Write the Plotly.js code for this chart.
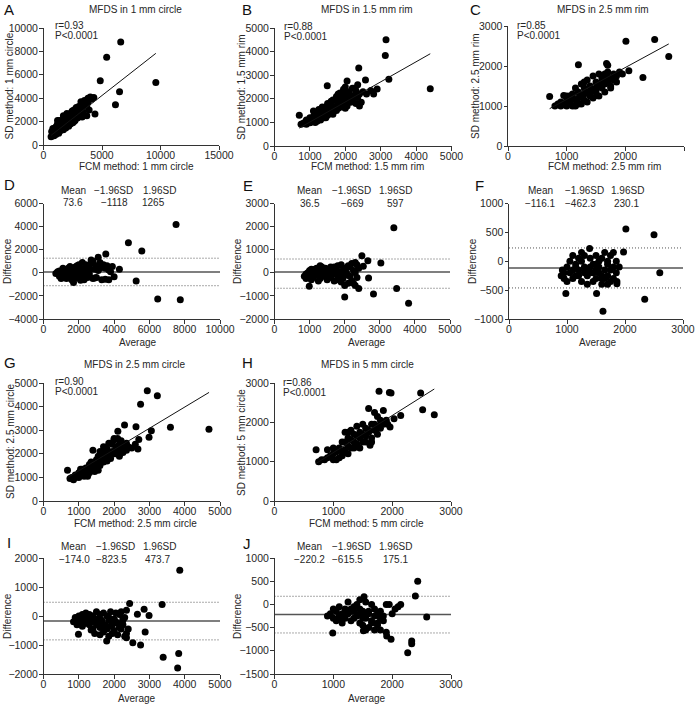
<!DOCTYPE html>
<html><head><meta charset="utf-8">
<script src="https://cdn.plot.ly/plotly-3.0.1.min.js"></script>
<style>html,body{margin:0;padding:0;background:#fff}#chart{width:695px;height:704px}</style>
</head><body><div id="chart"></div>
<script>
// ---------- DATA ----------
// A: MFDS in 1 mm circle (FCM vs SD)
const fcm1mmCircle = [
 650,700,750,800,850,900,950,1000,1000,1050,
 1100,1100,1150,1200,1200,1250,1300,1300,1350,1400,
 1400,1450,1500,1500,1550,1600,1600,1650,1700,1700,
 1750,1800,1800,1850,1900,1900,1950,2000,2000,2050,
 2100,2100,2150,2200,2200,2250,2300,2300,2400,2400,
 2450,2500,2500,2600,2600,2700,2700,2800,2800,2900,
 2900,3000,3000,3100,3200,3200,3300,3400,3500,3500,
 3600,3700,3800,3800,3900,4000,4100,4300,4400,1300,
 1600,1900,2200,2500,2800,3100,4850,5400,6600,9600,
 6500,6150,1200,900,2000,2600,3300,1700,800,3700];
const sd1mmCircle = [
 700,1150,900,1000,1250,800,1100,1200,1450,900,
 1000,1600,1300,1100,1800,1400,1000,1550,2100,1200,
 1700,1500,1300,1900,1600,1450,2000,1750,1300,2200,
 1900,1600,2050,1800,1450,2400,2100,1900,2300,1700,
 2500,2050,1600,2300,2600,2000,1800,2700,2200,2500,
 2900,1900,2650,2400,3000,2100,2800,3200,2500,2300,
 3000,3300,2600,2900,3700,3100,3500,2800,3800,3300,
 3600,3400,4000,3700,3000,4100,3900,4050,2650,1350,
 1700,2250,2000,2300,2600,2450,5500,7500,8800,5350,
 4550,3450,2100,1300,2700,2000,2400,2500,1400,2500];

// B: MFDS in 1.5 mm rim
const fcm15mmRim = [
 750,800,850,900,900,950,1000,1000,1050,1100,
 1100,1150,1200,1200,1250,1300,1300,1350,1400,1400,
 1450,1450,1500,1500,1550,1550,1600,1600,1650,1650,
 1700,1700,1750,1750,1800,1800,1850,1850,1900,1900,
 1950,1950,2000,2000,2050,2050,2100,2100,2150,2200,
 2200,2250,2300,2300,2350,2400,2400,2450,2500,2050,
 2380,2570,2720,2800,2900,3150,3130,3230,4400,1490,
 700,1100,1250,1350,1500,1600,1750,1850,2000,2150,
 1000,1150,1300,1450,1650,1800,1950,2250,2350,2600];
const sd15mmRim = [
 920,950,1000,920,1100,1050,980,1200,1100,1050,
 1250,1150,1050,1350,1200,1150,1450,1300,1200,1550,
 1350,1650,1300,1500,1400,1750,1500,1850,1350,1650,
 1550,1950,1700,2100,1600,1850,1750,2250,1950,1650,
 2400,1850,2050,2500,1700,2200,2300,1900,2100,2450,
 1950,2150,2350,1800,2050,2200,1700,1850,2300,2750,
 3300,2800,2350,2200,2420,4500,3830,2830,2430,2550,
 1300,1480,1550,1650,1800,1900,1500,2150,1600,1850,
 1000,1000,1100,1200,1950,2200,2150,2450,2600,2200];

// C: MFDS in 2.5 mm rim
const fcm25mmRim = [
 800,850,900,900,950,1000,1000,1050,1050,1100,
 1100,1150,1150,1200,1200,1250,1250,1300,1300,1350,
 1350,1400,1400,1450,1450,1500,1500,1550,1550,1600,
 1600,1650,1650,1700,1700,1750,1750,1800,1850,1900,
 710,2010,2500,2740,2300,2060,1200,1680,1700,1510,
 950,1150,1250,1350,1450,1550,1650,1750,1850,1950,
 1000,1100,1200,1300,1400,1500,1600,1700,1800,1300];
const sd25mmRim = [
 1000,1050,1000,1100,1050,1000,1150,1100,1250,1000,
 1300,1150,1450,1050,1350,1250,1550,1150,1450,1350,
 1650,1250,1500,1400,1750,1350,1600,1500,1800,1450,
 1700,1550,1800,1600,1850,1700,1500,1800,1750,1850,
 1240,2620,2660,2240,1710,1880,2030,2060,2020,1260,
 1260,1000,1050,1100,1200,1250,1350,1450,1600,1800,
 1250,1200,1200,1300,1350,1450,1600,1700,1650,1600];

// D: Bland-Altman 1 mm circle (average, difference)
const avg1mmCircle = [
 700,800,900,900,1000,1000,1100,1100,1200,1200,
 1300,1300,1400,1400,1500,1500,1600,1600,1700,1700,
 1800,1800,1900,1900,2000,2000,2100,2100,2200,2200,
 2300,2300,2400,2400,2500,2500,2600,2600,2700,2700,
 2800,2800,2900,2900,3000,3000,3100,3100,3200,3300,
 3400,3500,3500,3600,3700,3800,3900,4000,4300,3530,
 4810,5570,7510,5250,6470,7750,1500,1800,2000,2200,
 1100,1300,1600,2400,2600,1900,3200,2100,1200,3700];
const diff1mmCircle = [
 -50,100,-300,150,-500,50,-150,250,0,-350,
 200,-200,-50,400,100,-400,300,-250,-850,50,
 500,-150,200,-450,-100,700,350,-300,900,-50,
 150,-600,400,-200,600,-400,250,-100,1100,800,
 1000,-500,300,-450,600,-400,1350,200,900,-600,
 700,400,-550,600,-600,100,550,-350,300,1620,
 2600,1880,4180,-720,-2270,-2330,550,250,450,150,
 400,-500,-600,700,650,600,400,-650,150,250];

// E: Bland-Altman 1.5 mm rim
const avg15mmRim = [
 850,900,900,950,1000,1000,1050,1100,1100,1150,
 1200,1200,1250,1300,1300,1350,1400,1400,1450,1500,
 1500,1550,1600,1600,1650,1700,1700,1750,1800,1800,
 1850,1900,1900,1950,2000,2000,2050,2100,2100,2150,
 2200,2200,2250,2300,2300,2350,2400,2400,1250,990,
 2000,2820,3400,3030,2490,2660,2530,2680,3480,3820,
 1000,1150,1350,1450,1550,1650,1750,1850,1950,2050,
 1050,1300,1600,1800,2150,2250,2350,1700,1900,2300];
const diff15mmRim = [
 -150,-50,-250,0,-150,100,-300,50,-200,150,
 -100,200,-50,100,-250,250,0,-150,200,-300,
 100,-100,250,-200,0,150,-350,-50,300,-150,
 50,350,-400,-250,200,-550,0,300,-450,-150,
 400,-350,100,450,-550,-200,200,-680,-350,-580,
 -1050,-920,1950,420,740,520,280,-230,-680,-1320,
 50,-50,0,50,0,-50,100,-100,100,-100,
 150,300,50,-300,250,-450,350,250,-150,0];

// F: Bland-Altman 2.5 mm rim
const avg25mmRim = [
 900,920,950,1000,1000,1050,1050,1100,1100,1150,
 1150,1200,1200,1250,1250,1300,1300,1350,1350,1400,
 1400,1450,1450,1500,1500,1550,1550,1600,1600,1650,
 1650,1700,1700,1750,1750,1800,1800,1850,1850,1900,
 2015,2500,2600,2340,1620,980,1510,1975,1390,1860,
 1860,1100,1200,1300,1400,1500,1600,1700,1800,1250,
 950,1150,1350,1450,1550,1650,1750,1700,1600,1500];
const diff25mmRim = [
 -250,-150,-300,-100,-350,0,-200,100,-300,-50,
 -250,50,-150,-350,0,-100,100,-250,-400,50,
 -200,-50,-350,100,-300,0,-200,-400,50,-150,
 150,-250,0,100,-350,-100,150,-200,0,-100,
 560,460,-200,-660,-865,-560,-560,160,220,-390,
 -350,-150,-250,-200,-100,-150,-250,-50,-300,150,
 -200,-100,-150,-200,-100,-300,-150,-400,-300,-50];

// G: MFDS in 2.5 mm circle
const fcm25mmCircle = [
 750,800,850,900,900,950,1000,1000,1050,1100,
 1100,1150,1200,1200,1250,1300,1300,1350,1400,1400,
 1450,1500,1500,1550,1550,1600,1600,1650,1700,1700,
 1750,1800,1800,1850,1900,1900,1950,2000,2000,2050,
 2100,2100,2150,2200,2250,2300,2350,2400,2500,2600,
 680,2940,3225,2750,3055,2990,2700,2675,2620,3596,
 4687,2296,2106,1700,1850,2000,2200,1600,1450,1250,
 1050,1150,1350,1550,1650,1750,1950,2050,2150,2350];
const sd25mmCircle = [
 950,1000,900,1000,1100,1050,1000,1200,1100,1350,
 1150,1250,1100,1400,1300,1200,1550,1400,1300,2150,
 1550,1400,1750,1600,1900,1500,2100,1750,1650,2000,
 1850,1700,2200,2000,1800,2450,2100,2000,2650,2300,
 2650,2100,2400,2250,2050,2350,2150,2300,2250,2400,
 1300,4670,4460,4100,2980,2700,2610,2200,3150,3120,
 3040,3220,2960,2300,2450,2600,2550,1850,1250,1050,
 1350,1050,1650,1300,2000,2250,2400,2000,1900,2450];

// H: MFDS in 5 mm circle
const fcm5mmCircle = [
 750,800,850,900,900,950,1000,1000,1050,1100,
 1100,1150,1150,1200,1200,1250,1250,1300,1300,1350,
 1350,1400,1400,1450,1450,1500,1500,1550,1550,1600,
 1600,1650,1650,1700,1700,1750,1750,1800,1850,1900,
 707,1777,1953,1981,2484,2518,2716,2145,2032,1924,
 1964,1624,1000,1200,1300,1400,1500,1600,1700,1800,
 1050,1150,1250,1350,1450,1550,1650,1750,1850,1250];
const sd5mmCircle = [
 1000,1050,1050,1100,1300,1150,1050,1200,1250,1100,
 1350,1250,1500,1300,1750,1400,1600,1350,1800,1500,
 1700,1450,1900,1600,1750,1500,1950,1650,1850,2350,
 1750,1950,1600,2250,1800,1900,1700,2050,1950,2050,
 1300,2790,2760,2745,2745,2320,2190,2175,2090,1950,
 1880,1420,1350,1500,1550,1650,1700,1800,1950,1850,
 1050,1150,1200,1350,1350,1500,1500,2150,2300,1750];

// I: Bland-Altman 2.5 mm circle
const avg25mmCircle = [
 850,900,950,1000,1000,1050,1100,1100,1150,1200,
 1200,1250,1300,1300,1350,1400,1400,1450,1500,1500,
 1550,1600,1600,1650,1700,1700,1750,1800,1800,1850,
 1900,1900,1950,2000,2000,2050,2100,2100,2150,2200,
 2200,2250,2300,2300,2350,2350,2400,1350,990,1790,
 2440,3860,3360,2850,2660,2990,2880,2530,2750,3390,
 3830,3800,1050,1250,1450,1650,1850,2050,2250,1600,
 1150,1350,1550,1750,1950,2150,2350,1450,1850,2250];
const diff25mmCircle = [
 -200,-50,-300,0,-200,-100,-350,50,-150,-250,
 100,-100,-300,50,-200,-450,0,-150,150,-300,
 -100,50,-400,-200,-550,100,-300,0,-450,-150,
 150,-350,-600,-100,-500,100,-250,-650,50,-450,
 150,-300,-700,-50,-600,200,-450,-480,-630,-860,
 430,1580,400,230,60,20,-550,-920,-1000,-1420,
 -1290,-1790,-150,-50,-100,-150,-50,-200,-150,-650,
 50,0,-250,-400,-300,-400,-750,-600,-700,-100];

// J: Bland-Altman 5 mm circle
const avg5mmCircle = [
 900,950,1000,1050,1050,1100,1100,1150,1200,1200,
 1250,1250,1300,1300,1350,1350,1400,1400,1450,1450,
 1500,1500,1550,1550,1600,1600,1650,1650,1700,1700,
 1750,1750,1800,1800,1850,1900,1900,1950,2000,2050,
 2434,2394,2587,2264,2332,2332,990,1981,1907,1511,
 1522,2145,2100,1000,1150,1350,1550,1750,1850,1450,
 1300,1500,1600,1700,1800,1650,1550,1450,1200,1100];
const diff5mmCircle = [
 -250,-200,-300,-150,-350,-50,-250,-400,-100,-300,
 50,-200,-150,-350,-50,-300,0,-250,100,-400,
 -150,-450,50,-300,-200,-500,0,-350,-100,-550,
 -200,-450,-300,-550,-250,0,-600,0,-200,-100,
 500,180,-270,-1040,-850,-790,-617,-750,-680,-570,
 165,0,-50,-100,-200,-150,-250,-400,-350,-200,
 -100,-300,-150,-250,-150,-400,-550,-100,-200,-300];

// Regression fits for A, B, C, G, H
const fitSlope     = [0.783, 0.851, 0.797, 0.90, 0.942];
const fitIntercept = [316, 164, 368, 380, 289];
const fitXStart    = [650, 700, 710, 700, 707];
const fitXEnd      = [9600, 4400, 2740, 4690, 2716];
const fitR         = ["r=0.93", "r=0.88", "r=0.85", "r=0.90", "r=0.86"];
const fitP         = ["P<0.0001", "P<0.0001", "P<0.0001", "P<0.0001", "P<0.0001"];

// Bland-Altman statistics for D, E, F, I, J
const baMean  = [73.6, 36.5, -116.1, -174.0, -220.2];
const baLower = [-1118, -669, -462.3, -823.5, -615.5];
const baUpper = [1265, 597, 230.1, 473.7, 175.1];
const baMeanLabel  = ["73.6", "36.5", "\u2212116.1", "\u2212174.0", "\u2212220.2"];
const baLowerLabel = ["\u22121118", "\u2212669", "\u2212462.3", "\u2212823.5", "\u2212615.5"];
const baUpperLabel = ["1265", "597", "230.1", "473.7", "175.1"];

const panelTitles = ["MFDS in 1 mm circle", "MFDS in 1.5 mm rim", "MFDS in 2.5 mm rim",
                     "MFDS in 2.5 mm circle", "MFDS in 5 mm circle"];
const xTitles = ["FCM method: 1 mm circle", "FCM method: 1.5 mm rim", "FCM method: 2.5 mm rim",
                 "FCM method: 2.5 mm circle", "FCM method: 5 mm circle"];
const yTitles = ["SD method: 1 mm circle", "SD method: 1.5 mm rim", "SD method: 2.5 mm rim",
                 "SD method: 2.5 mm circle", "SD method: 5 mm circle"];

// ---------- LAYOUT / STYLE ----------
const W = 695, H = 704;
const FONT = '"Liberation Sans", Arial, Helvetica, sans-serif';
const TXT = '#262626';
const px = v => v / W;
const py = v => 1 - v / H;

// Scatter panels: box = [left, right, top, bottom] px
const regPanels = [
  {k:1, x:fcm1mmCircle, y:sd1mmCircle, xr:[0,15000], xd:5000, yr:[0,10000], yd:2000, box:[43.5,219,28,145], letter:'A', lp:[2,9],
   title:[135,10], rp:[53,25], xt:[136,166.5], yt:[9,86.5]},
  {k:2, x:fcm15mmRim, y:sd15mmRim, xr:[0,5000], xd:1000, yr:[0,5000], yd:1000, box:[274.5,451.5,28,146], letter:'B', lp:[240,9],
   title:[367,10], rp:[282,26], xt:[367,166.5], yt:[242,87]},
  {k:3, x:fcm25mmRim, y:sd25mmRim, xr:[0,3000], xd:1000, yr:[0,3000], yd:1000, box:[508,684,26,146], letter:'C', lp:[468,9],
   title:[603,10], rp:[515,25], xt:[604,166.5], yt:[475,86]},
  {k:7, x:fcm25mmCircle, y:sd25mmCircle, xr:[0,5000], xd:1000, yr:[0,5000], yd:1000, box:[43.5,220,383,501], letter:'G', lp:[2,362],
   title:[135,364], rp:[53,381.5], xt:[135,523], yt:[10,442]},
  {k:8, x:fcm5mmCircle, y:sd5mmCircle, xr:[0,3000], xd:1000, yr:[0,3000], yd:1000, box:[274.5,451,383,501], letter:'H', lp:[240,362],
   title:[367,364], rp:[281,382], xt:[366,523], yt:[241,442]}
];
const baPanels = [
  {k:4, x:avg1mmCircle, y:diff1mmCircle, xr:[0,10000], xd:2000, yr:[-4000,6000], yd:2000, box:[43.5,220,203.5,319], letter:'D', lp:[2,185],
   hdr:[[73,113.5,159.5],190.7], val:[[73,114,153.5],202.3], xt:[138,342], yt:[7,261]},
  {k:5, x:avg15mmRim, y:diff15mmRim, xr:[0,5000], xd:1000, yr:[-2000,3000], yd:1000, box:[274.5,450,203.5,319], letter:'E', lp:[241,186],
   hdr:[[309.5,351.5,395.7],190.7], val:[[309.5,352,395],203.5], xt:[367,342], yt:[237,261]},
  {k:6, x:avg25mmRim, y:diff25mmRim, xr:[0,3000], xd:1000, yr:[-1000,1000], yd:500, box:[509,683,203.5,319], letter:'F', lp:[473,186],
   hdr:[[540,584,627.7],190], val:[[540,580.5,626.7],203.3], xt:[597.5,342], yt:[472,261]},
  {k:9, x:avg25mmCircle, y:diff25mmCircle, xr:[0,5000], xd:1000, yr:[-2000,2000], yd:1000, box:[43.5,220,558,674], letter:'I', lp:[5,542],
   hdr:[[73,115.5,159.3],546.7], val:[[74,111,157],559], xt:[137,698], yt:[7,616]},
  {k:10, x:avg5mmCircle, y:diff5mmCircle, xr:[0,3000], xd:1000, yr:[-1500,1000], yd:500, box:[274.5,451,558,674], letter:'J', lp:[241,543],
   hdr:[[309.3,351.7,395.7],546.7], val:[[309.3,348,395.3],559], xt:[367,698], yt:[237,616]}
];

const traces = [];
const layout = {
  width: W, height: H, margin: {l:0, r:0, t:0, b:0},
  paper_bgcolor: '#fff', plot_bgcolor: 'rgba(0,0,0,0)',
  showlegend: false, font: {family: FONT, color: TXT, size: 10},
  annotations: []
};

function ann(text, x, y, opts) {
  layout.annotations.push(Object.assign({
    text: text, x: px(x), y: py(y), xref: 'paper', yref: 'paper',
    showarrow: false, xanchor: 'center', yanchor: 'middle',
    font: {family: FONT, size: 10, color: TXT}
  }, opts || {}));
}

function axes(p) {
  const sfx = p.k === 1 ? '' : String(p.k);
  const common = {
    showline: true, linecolor: '#333', linewidth: 1, mirror: false,
    ticks: 'outside', ticklen: 3.5, tickwidth: 1, tickcolor: '#333',
    showgrid: false, zeroline: false, fixedrange: true,
    tickmode: 'linear', tickformat: 'd',
    tickfont: {family: FONT, size: 10.5, color: TXT}
  };
  layout['xaxis' + sfx] = Object.assign({}, common, {
    domain: [px(p.box[0]), px(p.box[1])], range: p.xr, tick0: p.xr[0], dtick: p.xd,
    anchor: 'y' + sfx, ticklabelstandoff: -3
  });
  layout['yaxis' + sfx] = Object.assign({}, common, {
    domain: [py(p.box[3]), py(p.box[2])], range: p.yr, tick0: p.yr[0], dtick: p.yd,
    anchor: 'x' + sfx, ticklabelstandoff: -1
  });
  return {xa: 'x' + sfx, ya: 'y' + sfx};
}

const markerStyle = {size: 7, color: '#000', line: {width: 0}};

regPanels.forEach((p, i) => {
  const a = axes(p);
  traces.push({type: 'scatter', mode: 'markers', x: p.x, y: p.y, xaxis: a.xa, yaxis: a.ya,
               marker: markerStyle, cliponaxis: false, hoverinfo: 'skip'});
  const xs = [fitXStart[i], fitXEnd[i]];
  traces.push({type: 'scatter', mode: 'lines', x: xs, y: xs.map(v => fitSlope[i] * v + fitIntercept[i]),
               xaxis: a.xa, yaxis: a.ya, line: {color: '#111', width: 1}, hoverinfo: 'skip'});
  ann(p.letter, p.lp[0], p.lp[1], {xanchor: 'left', font: {family: FONT, size: 15, color: '#111'}});
  ann(panelTitles[i], p.title[0], p.title[1]);
  ann(fitR[i], p.rp[0], p.rp[1], {xanchor: 'left'});
  ann(fitP[i], p.rp[0], p.rp[1] + 10.5, {xanchor: 'left'});
  ann(xTitles[i], p.xt[0], p.xt[1]);
  ann(yTitles[i], p.yt[0], p.yt[1], {textangle: -90});
});

baPanels.forEach((p, i) => {
  const a = axes(p);
  const xs = [p.xr[0], p.xr[1]];
  traces.push({type: 'scatter', mode: 'lines', x: xs, y: [baUpper[i], baUpper[i]], xaxis: a.xa, yaxis: a.ya,
               line: {color: '#555', width: 1, dash: '1px,2px'}, hoverinfo: 'skip'});
  traces.push({type: 'scatter', mode: 'lines', x: xs, y: [baLower[i], baLower[i]], xaxis: a.xa, yaxis: a.ya,
               line: {color: '#555', width: 1, dash: '1px,2px'}, hoverinfo: 'skip'});
  traces.push({type: 'scatter', mode: 'lines', x: xs, y: [baMean[i], baMean[i]], xaxis: a.xa, yaxis: a.ya,
               line: {color: '#555', width: 1.5}, hoverinfo: 'skip'});
  traces.push({type: 'scatter', mode: 'markers', x: p.x, y: p.y, xaxis: a.xa, yaxis: a.ya,
               marker: markerStyle, cliponaxis: false, hoverinfo: 'skip'});
  ann(p.letter, p.lp[0], p.lp[1], {xanchor: 'left', font: {family: FONT, size: 15, color: '#111'}});
  const heads = ['Mean', '\u22121.96SD', '1.96SD'];
  const vals = [baMeanLabel[i], baLowerLabel[i], baUpperLabel[i]];
  heads.forEach((h, j) => ann(h, p.hdr[0][j], p.hdr[1]));
  vals.forEach((v, j) => ann(v, p.val[0][j], p.val[1]));
  ann('Average', p.xt[0], p.xt[1]);
  ann('Difference', p.yt[0], p.yt[1], {textangle: -90});
});

Plotly.newPlot('chart', traces, layout, {staticPlot: true, displayModeBar: false});
</script>
</body></html>
